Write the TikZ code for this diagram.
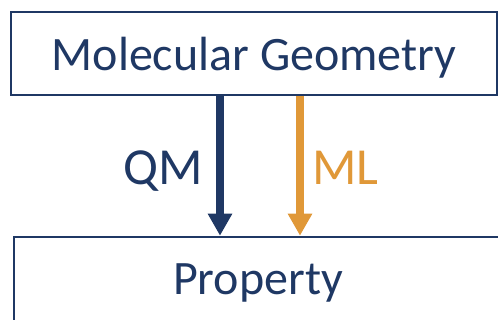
\documentclass[tikz,border=0pt]{standalone}
\usepackage{fontspec}
\setmainfont{Carlito}
\usetikzlibrary{arrows.meta,positioning}
\definecolor{navy}{RGB}{31,56,100}
\definecolor{gold}{RGB}{224,152,56}
\tikzset{
  box/.style={draw=navy,line width=2.5pt,text=navy,inner sep=0pt,text depth=0pt,
    font=\fontsize{48}{58}\selectfont},
  flow/.style={line width=8pt,-{Triangle[width=23pt,length=22pt]}},
  tag/.style={font=\fontsize{52}{62}\selectfont,text depth=0pt}
}
\begin{document}
\begin{tikzpicture}[x=1pt,y=1pt]
\useasboundingbox (0,0) rectangle (498,-320);
\clip (0,0) rectangle (498,-320);
\node [box,minimum width=486pt,minimum height=83pt] (geom) at (254,-53.5) {Molecular Geometry};
\node [box,minimum width=488pt,minimum height=84pt] (prop) at (258,-279) {Property};
\coordinate (qm) at (220,0);
\coordinate (ml) at (300,0);
\draw [flow,navy] (geom.south -| qm) -- (prop.north -| qm);
\draw [flow,gold] (geom.south -| ml) -- (prop.north -| ml);
\node [tag,text=navy] (qmlabel) at (163.5,-167.5) {QM};
\node [tag,text=gold] (mllabel) at (345.5,-167.5) {ML};
\end{tikzpicture}
\end{document}
